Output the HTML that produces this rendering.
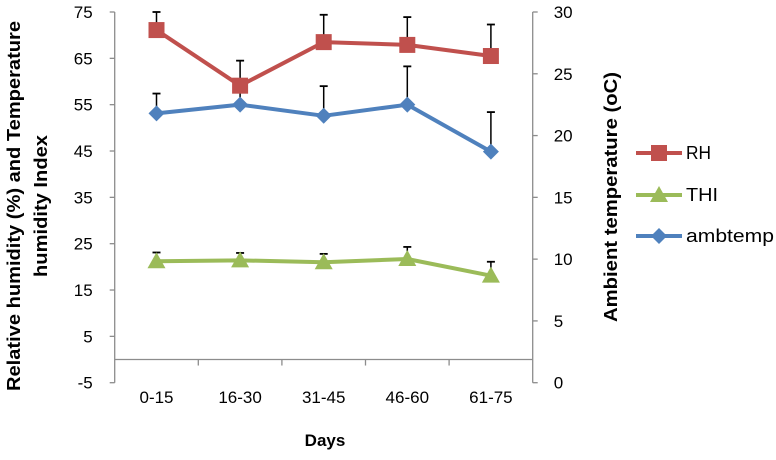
<!DOCTYPE html>
<html><head><meta charset="utf-8"><style>
body{margin:0;background:#fff;}
svg text{font-family:"Liberation Sans",Arial,sans-serif;fill:#000;}
</style></head><body>
<svg id="chart" width="776" height="455" xmlns="http://www.w3.org/2000/svg">
<g id="axes"></g><g id="plot"></g>
<text x="325" y="446" font-size="17" font-weight="bold" text-anchor="middle">Days</text>
<text transform="translate(20,206) rotate(-90)" font-size="18" font-weight="bold" text-anchor="middle" textLength="370" lengthAdjust="spacingAndGlyphs">Relative humidity (%) and Temperature</text>
<text transform="translate(47,206) rotate(-90)" font-size="18" font-weight="bold" text-anchor="middle" textLength="142" lengthAdjust="spacingAndGlyphs">humidity Index</text>
<text transform="translate(617,197) rotate(-90)" font-size="18" font-weight="bold" text-anchor="middle" textLength="250" lengthAdjust="spacingAndGlyphs">Ambient temperature (oC)</text>
<g id="legend"></g>
</svg>
<script>
const categories=["0-15","16-30","31-45","46-60","61-75"];
const rh=[71.1,59.1,68.5,67.9,65.5];
const rhErr=[3.9,5.4,5.9,6.0,6.8];
const thi=[21.2,21.4,21.0,21.7,18.1];
const thiErr=[1.9,1.6,1.8,2.6,3.0];
const amb=[21.8,22.5,21.6,22.5,18.7];
const ambErr=[1.6,1.7,2.4,3.1,3.2];
const leftTicks=[-5,5,15,25,35,45,55,65,75];
const rightTicks=[0,5,10,15,20,25,30];

const NS="http://www.w3.org/2000/svg";
const X0=114.7,X1=532.7,Y0=382.7,Y1=12;
const yL=v=>Y0-(v+5)/80*(Y0-Y1);
const yR=v=>Y0-v/30*(Y0-Y1);
const bw=(X1-X0)/categories.length;
const xC=i=>X0+bw*(i+0.5);
function mk(tag,attrs,parent){const e=document.createElementNS(NS,tag);for(const k in attrs)e.setAttribute(k,attrs[k]);parent.appendChild(e);return e;}
const axes=document.getElementById('axes'),plot=document.getElementById('plot'),leg=document.getElementById('legend');
const ac="#8c8c8c";
let e;
e=mk('line',{x1:X0,y1:Y1,x2:X0,y2:Y0,stroke:ac,'stroke-width':1.3},axes);

e=mk('line',{x1:X1,y1:Y1,x2:X1,y2:Y0,stroke:ac,'stroke-width':1.3},axes);

e=mk('line',{x1:X0,y1:yL(0),x2:X1,y2:yL(0),stroke:ac,'stroke-width':1.3},axes);

leftTicks.forEach(t=>{
 mk('line',{x1:X0-5,y1:yL(t),x2:X0,y2:yL(t),stroke:ac,'stroke-width':1.3},axes);
 e=mk('text',{x:X0-22,y:yL(t)+6,'font-size':17,'text-anchor':'end'},axes);e.textContent=t;
 
});
rightTicks.forEach(t=>{
 mk('line',{x1:X1,y1:yR(t),x2:X1+5,y2:yR(t),stroke:ac,'stroke-width':1.3},axes);
 e=mk('text',{x:X1+21,y:yR(t)+6,'font-size':17},axes);e.textContent=t;
 
});
for(let i=1;i<categories.length;i++)mk('line',{x1:X0+bw*i,y1:yL(0),x2:X0+bw*i,y2:yL(0)+6,stroke:ac,'stroke-width':1.3},axes);
categories.forEach((c,i)=>{
 e=mk('text',{x:xC(i),y:403,'font-size':17,'text-anchor':'middle'},axes);e.textContent=c;
 
});
function marker(shape,x,y,color,p,name){
 let m;
 if(shape==='sq')m=mk('rect',{x:x-8,y:y-8,width:16,height:16,fill:color},p);
 else if(shape==='tri')m=mk('polygon',{points:`${x},${y-9} ${x+9},${y+7} ${x-9},${y+7}`,fill:color},p);
 else m=mk('polygon',{points:`${x},${y-8} ${x+8},${y} ${x},${y+8} ${x-8},${y}`,fill:color},p);
 
}
function series(vals,errs,sc,color,shape,name){
 const g=mk('g',{},plot);
 
 vals.forEach((v,i)=>{
  const top=Math.max(sc(v+errs[i]),Y1);
  mk('line',{x1:xC(i),y1:sc(v),x2:xC(i),y2:top,stroke:'#000','stroke-width':1.5},g);
  mk('line',{x1:xC(i)-4,y1:top,x2:xC(i)+4,y2:top,stroke:'#000','stroke-width':1.8},g);
 });
 mk('polyline',{points:vals.map((v,i)=>xC(i)+','+sc(v)).join(' '),fill:'none',stroke:color,'stroke-width':4,'stroke-linejoin':'round'},g);
 vals.forEach((v,i)=>marker(shape,xC(i),sc(v),color,g,name+'-point'));
}
series(thi,thiErr,yL,'#9bbb59','tri','thi');
series(amb,ambErr,yR,'#4f81bd','dia','ambtemp');
series(rh,rhErr,yL,'#c0504d','sq','rh');
[['RH','#c0504d','sq',153,25],['THI','#9bbb59','tri',195,32],['ambtemp','#4f81bd','dia',236,88]].forEach(([n,c,s,y,w])=>{
 const g=mk('g',{},leg);
 
 mk('line',{x1:636,y1:y,x2:682,y2:y,stroke:c,'stroke-width':4},g);
 marker(s,659,y,c,g,'legend-marker');
 const t=mk('text',{x:686,y:y+6,'font-size':18,textLength:w,lengthAdjust:'spacingAndGlyphs'},g);t.textContent=n;
});
</script>
</body></html>
